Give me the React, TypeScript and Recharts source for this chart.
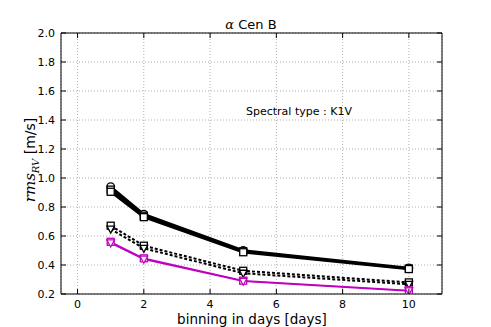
import { LineChart, Line, XAxis, YAxis, CartesianGrid, ReferenceLine } from 'recharts';

// binning (days) and rms values
const binDays = [1, 2, 5, 10];
const solidA = [0.94, 0.75, 0.5, 0.38];
const solidB = [0.92, 0.74, 0.495, 0.375];
const solidC = [0.905, 0.73, 0.488, 0.372];
const dashedA = [0.671, 0.533, 0.36, 0.28];
const dashedB = [0.648, 0.515, 0.343, 0.267];
const magentaA = [0.56, 0.446, 0.292, 0.225];
const magentaB = [0.552, 0.44, 0.288, 0.221];
const xTicks = [0, 2, 4, 6, 8, 10];
const yTicks = [0.2, 0.4, 0.6, 0.8, 1.0, 1.2, 1.4, 1.6, 1.8, 2.0];

const data = binDays.map((d, i) => ({
  d,
  sA: solidA[i],
  sB: solidB[i],
  sC: solidC[i],
  dA: dashedA[i],
  dB: dashedB[i],
  mA: magentaA[i],
  mB: magentaB[i],
}));

const W = 491;
const H = 327;
const LEFT = 61;
const TOP = 33;
const RIGHT = 442;
const BOTTOM = 294;
const FONT = '"DejaVu Sans", sans-serif';
const MAGENTA = '#c000c0';

function Square(p: any) {
  const { cx, cy, stroke } = p;
  if (cx == null || cy == null) return null;
  return <rect x={cx - 3.5} y={cy - 3.5} width={7} height={7} fill="#fff" stroke={stroke} strokeWidth={1.3} />;
}

function Circle(p: any) {
  const { cx, cy, stroke } = p;
  if (cx == null || cy == null) return null;
  return <circle cx={cx} cy={cy} r={3.8} fill="#fff" stroke={stroke} strokeWidth={1.3} />;
}

function TriDown(p: any) {
  const { cx, cy, stroke } = p;
  if (cx == null || cy == null) return null;
  return (
    <polygon
      points={`${cx - 3.8},${cy - 3} ${cx + 3.8},${cy - 3} ${cx},${cy + 4}`}
      fill="#fff"
      stroke={stroke}
      strokeWidth={1.3}
    />
  );
}

function XTick(p: any) {
  const { x, payload } = p;
  return (
    <g>
      <line x1={x} x2={x} y1={BOTTOM} y2={BOTTOM - 5} stroke="#000" />
      <line x1={x} x2={x} y1={TOP} y2={TOP + 5} stroke="#000" />
      <text x={x} y={BOTTOM + 14} textAnchor="middle" fontSize={11} fontFamily={FONT} fill="#000">
        {payload.value}
      </text>
    </g>
  );
}

function YTick(p: any) {
  const { y, payload } = p;
  return (
    <g>
      <line x1={LEFT} x2={LEFT + 5} y1={y} y2={y} stroke="#000" />
      <line x1={RIGHT} x2={RIGHT - 5} y1={y} y2={y} stroke="#000" />
      <text x={LEFT - 6} y={y + 4} textAnchor="end" fontSize={11} fontFamily={FONT} fill="#000">
        {Number(payload.value).toFixed(1)}
      </text>
    </g>
  );
}

export default function App() {
  return (
    <div style={{ position: 'absolute', left: 0, top: 0, width: W, height: H, background: '#fff' }}>
      <LineChart width={W} height={H} data={data} margin={{ top: TOP, right: W - RIGHT, bottom: 0, left: 0 }}>
        <CartesianGrid stroke="#b0b0b0" strokeDasharray="1 2" vertical horizontal />
        <XAxis
          dataKey="d"
          type="number"
          domain={[-0.5, 11]}
          ticks={xTicks}
          height={H - BOTTOM}
          tickLine={false}
          axisLine={{ stroke: '#000' }}
          tick={<XTick />}
          allowDataOverflow
        />
        <YAxis
          type="number"
          domain={[0.2, 2.0]}
          ticks={yTicks}
          width={LEFT}
          tickLine={false}
          axisLine={{ stroke: '#000' }}
          tick={<YTick />}
          allowDataOverflow
        />
        <ReferenceLine y={2.0} stroke="#000" />
        <ReferenceLine x={11} stroke="#000" />
        <Line dataKey="sA" stroke="#000" strokeWidth={2.5} dot={<Circle />} isAnimationActive={false} />
        <Line dataKey="sB" stroke="#000" strokeWidth={2.5} dot={<Square />} isAnimationActive={false} />
        <Line dataKey="sC" stroke="#000" strokeWidth={2.5} dot={<Square />} isAnimationActive={false} />
        <Line dataKey="dA" stroke="#000" strokeWidth={2} strokeDasharray="3 2" dot={<Square />} isAnimationActive={false} />
        <Line dataKey="dB" stroke="#000" strokeWidth={2} strokeDasharray="3 2" dot={<TriDown />} isAnimationActive={false} />
        <Line dataKey="mA" stroke={MAGENTA} strokeWidth={1.5} dot={<Square />} isAnimationActive={false} />
        <Line dataKey="mB" stroke={MAGENTA} strokeWidth={1.5} dot={<TriDown />} isAnimationActive={false} />
      </LineChart>
      <svg width={W} height={H} style={{ position: 'absolute', left: 0, top: 0, pointerEvents: 'none' }}>
        <text x={251} y={29} textAnchor="middle" fontSize={13} fontFamily={FONT} fill="#000">
          <tspan fontFamily="'DejaVu Serif', serif" fontStyle="italic">α</tspan> Cen B
        </text>
        <text x={246} y={115} fontSize={11} fontFamily={FONT} fill="#000">
          Spectral type : K1V
        </text>
        <text x={252} y={324} textAnchor="middle" fontSize={13.5} fontFamily={FONT} fill="#000">
          binning in days [days]
        </text>
        <text transform="translate(35,160) rotate(-90)" textAnchor="middle" fontSize={14} fontFamily={FONT} fill="#000">
          <tspan fontFamily="'DejaVu Serif', serif" fontStyle="italic" fontSize={15}>rms</tspan>
          <tspan fontFamily="'DejaVu Serif', serif" fontStyle="italic" fontSize={10} dy={4}>RV</tspan>
          <tspan dy={-4}> [m/s]</tspan>
        </text>
      </svg>
    </div>
  );
}
